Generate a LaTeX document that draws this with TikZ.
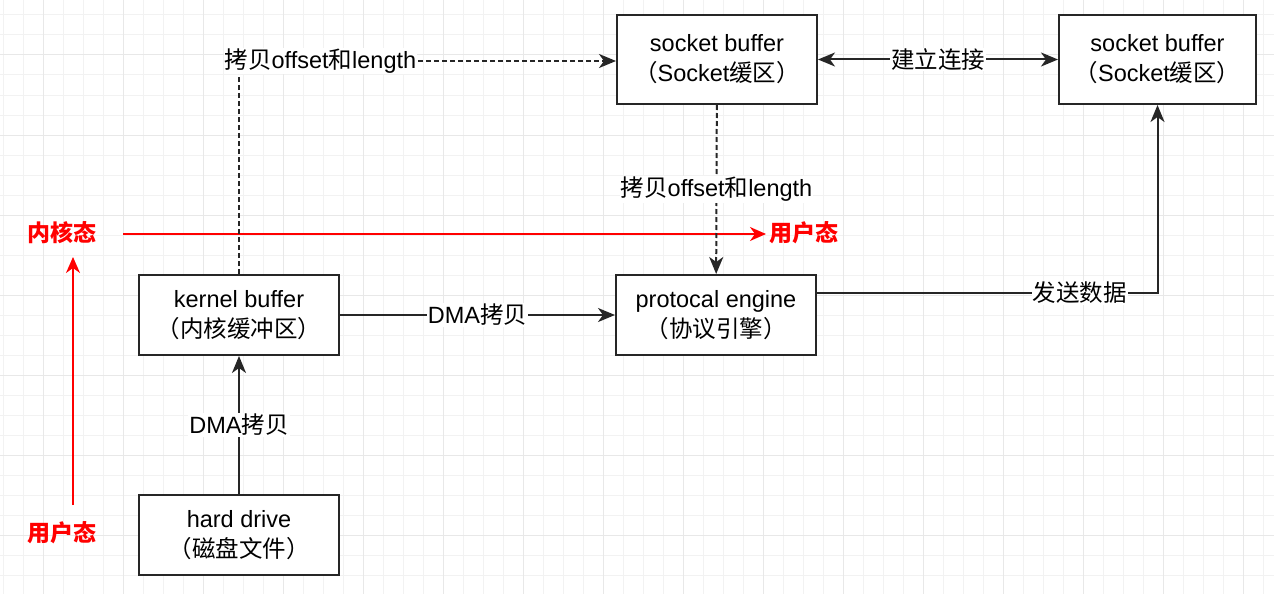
\documentclass[tikz,border=0pt]{standalone}
\usepackage{fontspec}
\setmainfont{Liberation Sans}
\newfontfamily\cjk{Noto Sans CJK SC}
\newcommand{\zh}[1]{{\cjk #1}}
\usetikzlibrary{arrows.meta}

\colorlet{gridMinor}{black!5}
\colorlet{gridMajor}{black!9}
\colorlet{stateRed}{red}

\tikzset{
  tip/.style={-{Stealth[length=17pt,width=14pt,inset=5pt]}},
  box/.style={draw=black!85, line width=2pt, fill=white, minimum width=200pt,
    minimum height=80pt, inner sep=0pt, align=center},
  flow/.style={draw=black!85, line width=2pt, tip},
  copyline/.style={flow, dash pattern=on 5pt off 3pt},
  edgelbl/.style={fill=white, inner sep=1pt},
  statelbl/.style={text=stateRed, font=\cjk\bfseries\fontsize{23}{26}\selectfont},
  stateline/.style={stateRed, line width=1.6pt,
    -{Stealth[length=16pt,width=14pt,inset=5pt]}}
}

\begin{document}
\begin{tikzpicture}[x=1pt, y=-1pt, font=\fontsize{23.5}{30}\selectfont]

  % page and grid
  \fill[white] (0,0) rectangle (1274,594);
  \useasboundingbox (0,0) rectangle (1274,594);
  \foreach \gx in {3,23,...,1274}
    \draw[gridMinor, line width=1pt] (\gx,0) -- (\gx,594);
  \foreach \gy in {15,35,...,594}
    \draw[gridMinor, line width=1pt] (0,\gy) -- (1274,\gy);
  \foreach \gx in {43,123,...,1274}
    \draw[gridMajor, line width=1pt] (\gx,0) -- (\gx,594);
  \foreach \gy in {55,135,...,594}
    \draw[gridMajor, line width=1pt] (0,\gy) -- (1274,\gy);

  % boxes
  \node[box, minimum height=89pt] (sockA) at (717,59.5)
    {socket buffer\\\zh{（}Socket\zh{缓区）}};
  \node[box, minimum height=89pt, minimum width=197pt] (sockB) at (1157.5,59.5)
    {socket buffer\\\zh{（}Socket\zh{缓区）}};
  \node[box] (kernel) at (239,315) {kernel buffer\\\zh{（内核缓冲区）}};
  \node[box] (engine) at (716,315) {protocal engine\\\zh{（协议引擎）}};
  \node[box] (disk) at (239,535) {hard drive\\\zh{（磁盘文件）}};

  % kernel / user state marks
  \node[statelbl] (kstate) at (62,233) {内核态};
  \node[statelbl] (ustate) at (62,533) {用户态};
  \node[statelbl] (ustateR) at (804,233) {用户态};
  \coordinate (redFrom) at (73,505);
  \coordinate (redTo) at (73,257);
  \coordinate (redStart) at (123,234);
  \draw[stateline] (redFrom) -- (redTo);
  \draw[stateline] (redStart) -- (redStart -| ustateR.west);

  % data paths
  \draw[flow] (disk) -- (kernel)
    node[midway, edgelbl] {DMA\zh{拷贝}};
  \draw[flow] (kernel) -- (engine)
    node[midway, edgelbl] {DMA\zh{拷贝}};
  \draw[copyline] (kernel.north) |- ([yshift=-1.5pt]sockA.west)
    node[pos=0.608, edgelbl] {\zh{拷贝}offset\zh{和}length};
  \draw[copyline] (sockA) -- (engine)
    node[midway, edgelbl] {\zh{拷贝}offset\zh{和}length};
  \draw[flow, {Stealth[length=17pt,width=14pt,inset=5pt]}-{Stealth[length=17pt,width=14pt,inset=5pt]}]
    (sockA) -- (sockB) node[midway, edgelbl] {\zh{建立连接}};
  \draw[flow] ([yshift=22pt]engine.east) -| (sockB.south)
    node[pos=0.386, edgelbl] {\zh{发送数据}};

\end{tikzpicture}
\end{document}
